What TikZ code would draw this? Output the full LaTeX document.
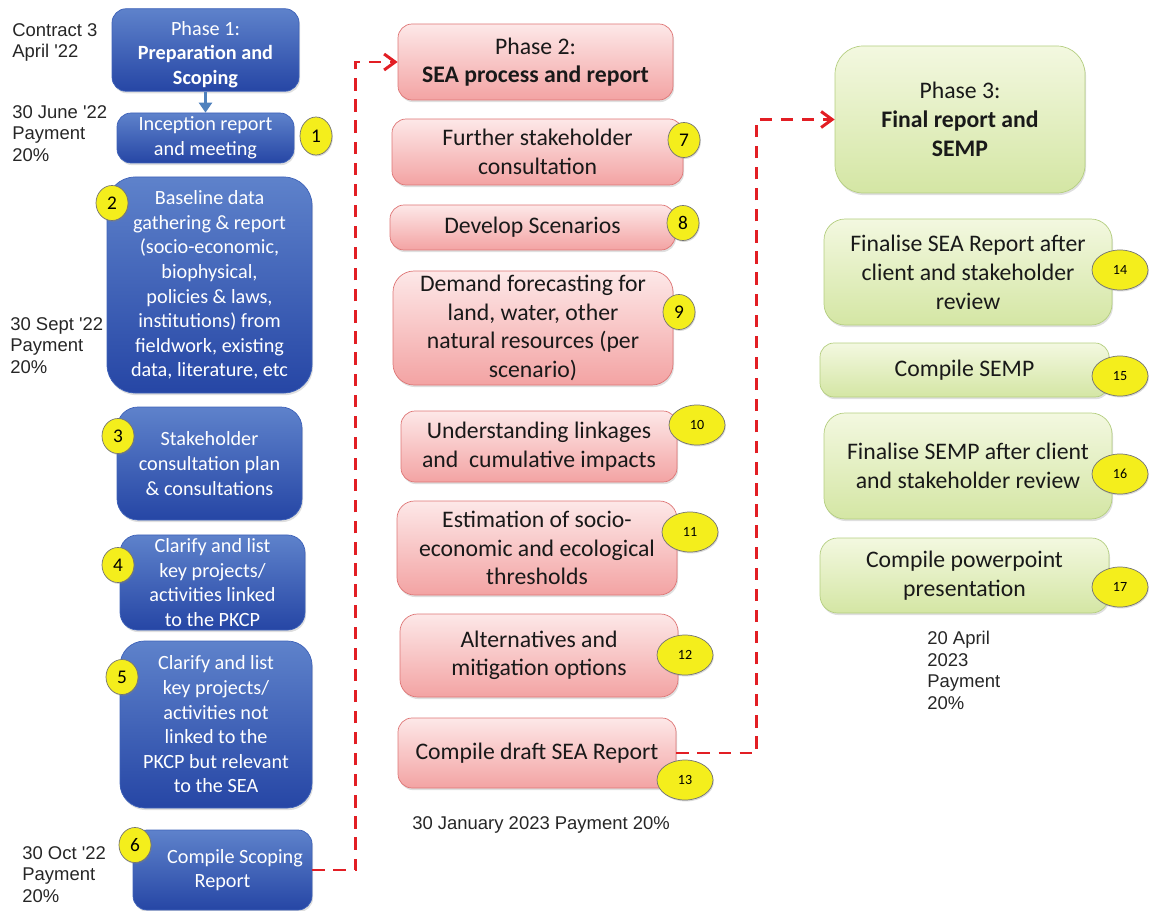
\documentclass[tikz,border=0pt]{standalone}
\usepackage{fontspec}
\setmainfont{Carlito}
\newfontfamily\arialfont{Liberation Sans}
\usetikzlibrary{arrows.meta, shapes.geometric, shadows}
\definecolor{blueTop}{RGB}{94,130,203}
\definecolor{blueBot}{RGB}{38,70,165}
\definecolor{blueEdge}{RGB}{62,98,185}
\definecolor{pinkTop}{RGB}{253,232,232}
\definecolor{pinkBot}{RGB}{243,163,163}
\definecolor{pinkEdge}{RGB}{222,118,118}
\definecolor{greenTop}{RGB}{243,248,224}
\definecolor{greenBot}{RGB}{212,230,164}
\definecolor{greenEdge}{RGB}{180,206,128}
\definecolor{badgeYellow}{RGB}{244,238,28}
\definecolor{dashRed}{RGB}{226,30,36}
\definecolor{arrowBlue}{RGB}{79,129,189}

\begin{document}
\begin{tikzpicture}[
    box/.style={rectangle, rounded corners=8pt, align=center, inner sep=2pt,
        drop shadow={opacity=0.25, shadow xshift=0.6pt, shadow yshift=-1.2pt}},
    bluebox/.style={box, top color=blueTop, bottom color=blueBot, draw=blueEdge,
        text=white, font=\fontsize{11.5}{14}\selectfont},
    pinkbox/.style={box, top color=pinkTop, bottom color=pinkBot, draw=pinkEdge,
        text=black!90, font=\fontsize{13.5}{16.2}\selectfont},
    greenbox/.style={box, top color=greenTop, bottom color=greenBot, draw=greenEdge,
        text=black!90, font=\fontsize{13.5}{16.5}\selectfont},
    badge/.style={ellipse, fill=badgeYellow, draw=black!55, inner sep=0pt,
        minimum width=0.64cm, minimum height=0.70cm, font=\fontsize{11}{11}\selectfont,
        drop shadow={opacity=0.3, shadow xshift=0.5pt, shadow yshift=-0.8pt}},
    wbadge/.style={badge, minimum width=1.12cm, minimum height=0.80cm,
        font=\fontsize{8}{8}\selectfont},
    datelbl/.style={anchor=north west, align=left, inner sep=0pt, text=black!85,
        font=\arialfont\fontsize{10.5}{12.2}\selectfont},
    link/.style={dashRed, line width=1.7pt, dash pattern=on 7pt off 5pt,
        -{Straight Barb[length=2.2mm, width=3.2mm]}}
]
    \useasboundingbox (0,0) rectangle (23.06,-18.22);

    % Phase 1 column
    \node[bluebox, minimum width=3.74cm, minimum height=1.6cm] (p1) at (4.11,-1.0)
        {\rule{0pt}{13pt}Phase 1:\\ \textbf{Preparation and}\\ \textbf{Scoping}};
    \node[bluebox, minimum width=3.54cm, minimum height=1.0cm] (s1) at (4.11,-2.76)
        {Inception report\\ and meeting};
    \node[bluebox, rounded corners=16pt, minimum width=4.10cm, minimum height=4.32cm] (s2) at (4.19,-5.70)
        {Baseline data\\ gathering \& report\\ (socio-economic,\\ biophysical,\\ policies \& laws,\\ institutions) from\\ fieldwork, existing\\ data, literature, etc};
    \node[bluebox, rounded corners=12pt, minimum width=3.70cm, minimum height=2.26cm] (s3) at (4.19,-9.27)
        {Stakeholder\\ consultation plan\\ \& consultations};
    \node[bluebox, rounded corners=10pt, minimum width=3.70cm, minimum height=1.90cm] (s4) at (4.25,-11.65)
        {Clarify and list\\ key projects/\\ activities linked\\ to the PKCP};
    \node[bluebox, rounded corners=14pt, minimum width=3.84cm, minimum height=3.34cm] (s5) at (4.32,-14.49)
        {Clarify and list\\ key projects/\\ activities not\\ linked to the\\ PKCP but relevant\\ to the SEA};
    \node[bluebox, minimum width=3.58cm, minimum height=1.6cm] (s6) at (4.45,-17.40)
        {\hspace*{0.5cm}Compile Scoping\\ Report};

    \draw[arrowBlue, line width=1.4pt, -{Triangle[length=2mm, width=2.6mm]}] (p1.south) -- (s1.north);

    % Phase 1 dates
    \node[datelbl] (d1) at (0.24,-0.46) {Contract 3\\ April '22};
    \node[datelbl] (d2) at (0.24,-2.10) {30 June '22\\ Payment\\ 20\%};
    \node[datelbl] (d3) at (0.20,-6.34) {30 Sept '22\\ Payment\\ 20\%};
    \node[datelbl] (d4) at (0.44,-16.92) {30 Oct '22\\ Payment\\ 20\%};

    % Phase 2 column
    \node[pinkbox, minimum width=5.50cm, minimum height=1.52cm] (p2) at (10.71,-1.24)
        {Phase 2:\\ \textbf{SEA process and report}};
    \node[pinkbox, minimum width=5.82cm, minimum height=1.32cm] (s7) at (10.75,-3.04)
        {Further stakeholder\\ consultation};
    \node[pinkbox, minimum width=5.70cm, minimum height=0.90cm] (s8) at (10.65,-4.55)
        {Develop Scenarios};
    \node[pinkbox, rounded corners=12pt, minimum width=5.60cm, minimum height=2.28cm] (s9) at (10.66,-6.56)
        {Demand forecasting for\\ land, water, other\\ natural resources (per\\ scenario)};
    \node[pinkbox, minimum width=5.52cm, minimum height=1.42cm] (s10) at (10.78,-8.93)
        {Understanding linkages\\ and\ \ cumulative impacts};
    \node[pinkbox, rounded corners=10pt, minimum width=5.60cm, minimum height=1.88cm] (s11) at (10.74,-10.96)
        {Estimation of socio-\\ economic and ecological\\ thresholds};
    \node[pinkbox, rounded corners=10pt, minimum width=5.56cm, minimum height=1.66cm] (s12) at (10.78,-13.11)
        {Alternatives and\\ mitigation options};
    \node[pinkbox, minimum width=5.56cm, minimum height=1.40cm] (s13) at (10.74,-15.06)
        {Compile draft SEA Report};
    \node[datelbl] (d5) at (8.24,-16.32) {30 January 2023 Payment 20\%};

    % Phase 3 column
    \node[greenbox, rounded corners=16pt, minimum width=5.00cm, minimum height=2.94cm] (p3) at (19.20,-2.39)
        {Phase 3:\\ \textbf{Final report and}\\ \textbf{SEMP}};
    \node[greenbox, rounded corners=12pt, minimum width=5.76cm, minimum height=2.12cm] (s14) at (19.36,-5.44)
        {Finalise SEA Report after\\ client and stakeholder\\ review};
    \node[greenbox, minimum width=5.78cm, minimum height=1.08cm] (s15) at (19.29,-7.40)
        {Compile SEMP};
    \node[greenbox, rounded corners=12pt, minimum width=5.76cm, minimum height=2.12cm] (s16) at (19.36,-9.32)
        {Finalise SEMP after client\\ and stakeholder review};
    \node[greenbox, rounded corners=10pt, minimum width=5.78cm, minimum height=1.50cm] (s17) at (19.29,-11.51)
        {Compile powerpoint\\ presentation};
    \node[datelbl] (d6) at (18.54,-12.62) {20 April\\ 2023\\ Payment\\ 20\%};

    % Phase links
    \draw[link] (s6.east) -- ++(0.86,0) |- (p2.west);
    \draw[link] (s13.east) -- ++(1.60,0) |- (p3.west);

    % Step badges
    \node[badge, minimum height=0.76cm] (b1) at (6.32,-2.72) {1};
    \node[badge] (b2) at (2.24,-4.06) {2};
    \node[badge] (b3) at (2.36,-8.72) {3};
    \node[badge] (b4) at (2.36,-11.30) {4};
    \node[badge] (b5) at (2.44,-13.54) {5};
    \node[badge] (b6) at (2.70,-16.90) {6};
    \node[badge] (b7) at (13.68,-2.80) {7};
    \node[badge] (b8) at (13.66,-4.46) {8};
    \node[badge] (b9) at (13.58,-6.24) {9};
    \node[wbadge] (b10) at (13.94,-8.50) {10};
    \node[wbadge] (b11) at (13.80,-10.64) {11};
    \node[wbadge] (b12) at (13.70,-13.10) {12};
    \node[wbadge] (b13) at (13.70,-15.60) {13};
    \node[wbadge] (b14) at (22.40,-5.40) {14};
    \node[wbadge] (b15) at (22.40,-7.52) {15};
    \node[wbadge] (b16) at (22.40,-9.48) {16};
    \node[wbadge] (b17) at (22.40,-11.74) {17};
\end{tikzpicture}
\end{document}
